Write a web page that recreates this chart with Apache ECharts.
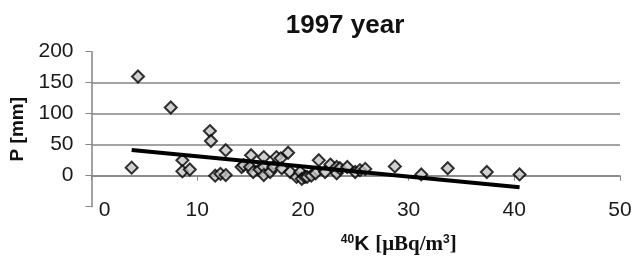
<!DOCTYPE html>
<html>
<head>
<meta charset="utf-8">
<script src="https://cdn.jsdelivr.net/npm/echarts@6/dist/echarts.min.js"></script>
<style>
  html, body { margin: 0; padding: 0; background: #fff; }
  #chart { width: 636px; height: 260px; }
</style>
</head>
<body>
<div id="chart"></div>
<script>
// 40K activity [uBq/m3] vs precipitation P [mm], 1997
const kValues = [3.8, 4.4, 7.5, 8.6, 8.6, 9.3, 11.2, 11.3, 11.7, 12.2, 12.7, 12.7,
  14.2, 14.4, 15.0, 15.1, 15.3, 15.9, 16.3, 16.3, 16.3, 16.9, 17.2, 17.5, 17.9, 18.0,
  18.6, 18.8, 19.4, 19.75, 19.9, 20.2, 20.4, 20.8, 21.2, 21.5, 22.1, 22.6, 23.2, 23.2,
  23.5, 24.2, 24.95, 25.4, 25.9, 28.7, 31.2, 33.7, 37.4, 40.5]
const pValues = [13, 160, 110, 25, 7, 10, 72, 56, 0, 3, 41, 1,
  14, 17, 14, 33, 6, 10, 30, 14, 1, 6, 14, 30, 28, 12,
  37, 6, -2, 6, -5, -2, -2, 0, 4, 25, 6, 18, 14, 4,
  12, 14, 6, 9, 11, 15, 2, 12, 6, 2]

// linear trend end points
const trendX = [3.8, 40.5]
const trendY = [41.5, -18.7]

const xTicks = [0, 10, 20, 30, 40, 50]
const yTicks = [-50, 0, 50, 100, 150, 200]

const font = 'Liberation Sans'
const gray = '#858585'

const points = kValues.map((k, i) => [k, pValues[i]])
const trend = trendX.map((k, i) => [k, trendY[i]])

const chart = echarts.init(document.getElementById('chart'))

chart.setOption({
  animation: false,
  grid: { left: 91.5, right: 16, top: 51.7, bottom: 53.3 },
  graphic: [{
    type: 'text',
    x: 345, y: 26,
    style: {
      text: '1997 year',
      font: 'bold 26px ' + font,
      fill: '#111',
      align: 'center',
      verticalAlign: 'middle'
    }
  }],
  xAxis: [{
    type: 'value',
    min: xTicks[0], max: xTicks[xTicks.length - 1], interval: 10,
    axisLine: { onZero: true, lineStyle: { color: gray, width: 1.5 } },
    axisTick: { show: true, length: 5, lineStyle: { color: gray } },
    axisLabel: { show: false },
    splitLine: { show: false }
  }, {
    type: 'value',
    position: 'bottom',
    min: xTicks[0], max: xTicks[xTicks.length - 1], interval: 10,
    axisLine: { show: false, onZero: false },
    axisTick: { show: false },
    splitLine: { show: false },
    axisLabel: {
      margin: -7,
      fontFamily: font, fontSize: 21, color: '#1a1a1a',
      formatter: v => v === 0 ? '{z|0}' : String(v),
      rich: { z: { fontFamily: font, fontSize: 21, color: '#1a1a1a', padding: [0, 0, 0, 26] } }
    },
    name: '{sup|40}{k|K }{s|[μBq/m}{sup|3}{s|]}',
    nameLocation: 'middle',
    nameGap: 27,
    nameTextStyle: {
      padding: [0, 0, 0, 86],
      rich: {
        sup: { fontFamily: font, fontWeight: 'bold', fontSize: 12, color: '#111', verticalAlign: 'top', padding: [0, 0, 9, 0] },
        k: { fontFamily: font, fontWeight: 'bold', fontSize: 21, color: '#111' },
        s: { fontFamily: 'Liberation Serif', fontWeight: 'bold', fontSize: 21, color: '#111' }
      }
    }
  }],
  yAxis: {
    type: 'value',
    min: yTicks[0], max: yTicks[yTicks.length - 1], interval: 50,
    axisLine: { show: true, lineStyle: { color: gray, width: 1.5 } },
    axisTick: { show: true, length: 6, lineStyle: { color: gray } },
    axisLabel: {
      margin: 18,
      fontFamily: font, fontSize: 21, color: '#1a1a1a',
      formatter: v => v === -50 ? '' : String(v)
    },
    splitLine: {
      show: true,
      lineStyle: { width: 1.5, color: ['rgba(0,0,0,0)', gray, gray, gray, gray, 'rgba(0,0,0,0)'] }
    },
    name: 'P [mm]',
    nameLocation: 'middle',
    nameGap: 57,
    nameTextStyle: { fontFamily: font, fontWeight: 'bold', fontSize: 19, color: '#111' }
  },
  series: [{
    type: 'scatter',
    xAxisIndex: 0,
    data: points,
    symbol: 'diamond',
    symbolSize: 12,
    itemStyle: { color: '#c4c4c4', borderColor: '#000', borderWidth: 2 },
    z: 2
  }, {
    type: 'line',
    xAxisIndex: 0,
    data: trend,
    symbol: 'none',
    lineStyle: { color: '#000', width: 4 },
    z: 3
  }]
})
</script>
</body>
</html>
